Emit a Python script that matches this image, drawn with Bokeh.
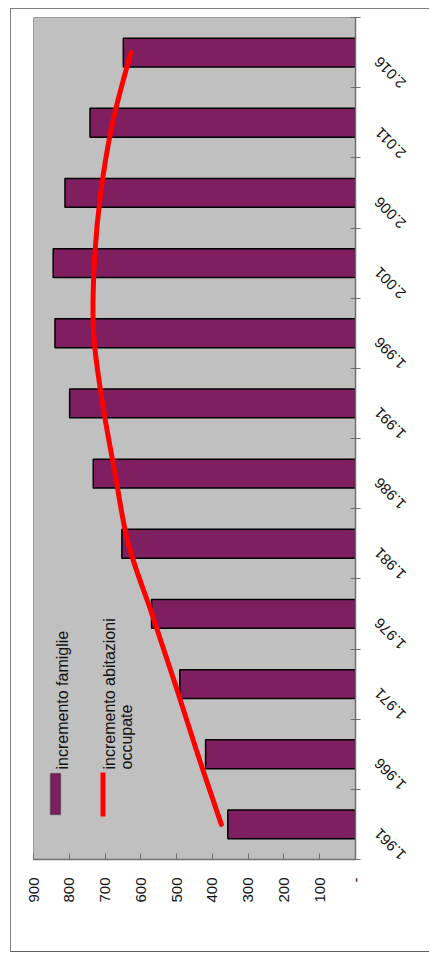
from math import pi

from bokeh.plotting import figure
from bokeh.models import Range1d, FixedTicker, Label, BoxAnnotation, ColumnDataSource
from bokeh.embed import file_html
from bokeh.resources import INLINE

# Census years (category axis) and the two series
years = ["1.961", "1.966", "1.971", "1.976", "1.981", "1.986",
         "1.991", "1.996", "2.001", "2.006", "2.011", "2.016"]
incremento_famiglie = [357, 419, 491, 570, 653, 733, 799, 840, 845, 812, 742, 649]
incremento_abitazioni = [375, 441, 504, 569, 635, 672, 707, 732, 730, 712, 679, 628]
value_ticks = [0, 100, 200, 300, 400, 500, 600, 700, 800, 900]
value_labels = ["-", "100", "200", "300", "400", "500", "600", "700", "800", "900"]

FONT = "Liberation Sans"
BAR = "#7F1F5F"
LINE = "#FF0000"
AXIS = "#707070"

# the figure sits inside a framed chart area
OX, OY = 10, 8          # page offset of the chart area frame
BW = 1                  # frame line width
W = 420 - BW
H = 956 - OY - 2 * BW - 2

n = len(years)
centers = [i + 0.5 for i in range(n)]
# year labels hang from the lower edge of each year's slot
label_pos = [i + 0.03 for i in range(n)]

p = figure(width=W, height=H,
           x_range=Range1d(900, 0), y_range=Range1d(0, n),
           x_axis_location="below", y_axis_location="right",
           output_backend="svg", toolbar_location=None,
           min_border_left=33 - OX - BW, min_border_top=17 - OY - BW,
           min_border_right=W - (355 - OX - BW),
           min_border_bottom=H - (859 - OY - BW))
p.margin = (OY, 0, 0, OX)
p.styles = {"border-left": f"{BW}px solid #808080",
            "border-top": f"{BW}px solid #808080",
            "border-bottom": f"{BW}px solid #606060"}

p.background_fill_color = "#C0C0C0"
p.border_fill_color = "white"
p.outline_line_color = "#9A9A9A"
p.outline_line_width = 1
p.xgrid.visible = False
p.ygrid.visible = False

# value axis (bottom), labels turned to read upwards
xa = p.xaxis[0]
xa.ticker = FixedTicker(ticks=value_ticks)
xa.major_label_overrides = {float(t): s for t, s in zip(value_ticks, value_labels)}
xa.major_label_orientation = pi / 2
xa.major_label_text_font = FONT
xa.major_label_text_font_size = "15px"
xa.major_label_text_color = "#111111"
xa.major_label_standoff = 18
xa.axis_line_color = AXIS
xa.axis_line_width = 1.5
xa.major_tick_line_color = AXIS
xa.major_tick_in = 6
xa.major_tick_out = 0
xa.minor_tick_line_color = None

# category axis (right): tick marks between the years, turned year labels
ya = p.yaxis[0]
ya.ticker = FixedTicker(ticks=label_pos, minor_ticks=list(range(n + 1)))
ya.major_label_overrides = {float(t): y for t, y in zip(label_pos, years)}
ya.major_label_orientation = 3 * pi / 4
ya.major_label_text_font = FONT
ya.major_label_text_font_size = "15px"
ya.major_label_text_color = "#111111"
ya.major_label_standoff = 43
ya.major_tick_in = 0
ya.major_tick_out = 0
ya.major_tick_line_color = None
ya.minor_tick_in = 5
ya.minor_tick_out = 5
ya.minor_tick_line_color = AXIS
ya.axis_line_color = AXIS
ya.axis_line_width = 1.5

src = ColumnDataSource(dict(pos=centers, fam=incremento_famiglie))

# bars
p.hbar(source=src, y="pos", left=0, right="fam", height=0.41,
       fill_color=BAR, line_color="black", line_width=1.5)

# smoothed line through the second series (cubic Bezier segments)
xs, ys = incremento_abitazioni, centers
seg = dict(x0=[], y0=[], x1=[], y1=[], cx0=[], cy0=[], cx1=[], cy1=[])
for i in range(n - 1):
    a = max(i - 1, 0)
    b = min(i + 2, n - 1)
    seg["x0"].append(xs[i]); seg["y0"].append(ys[i])
    seg["x1"].append(xs[i + 1]); seg["y1"].append(ys[i + 1])
    seg["cx0"].append(xs[i] + (xs[i + 1] - xs[a]) / 6)
    seg["cy0"].append(ys[i] + (ys[i + 1] - ys[a]) / 6)
    seg["cx1"].append(xs[i + 1] - (xs[b] - xs[i]) / 6)
    seg["cy1"].append(ys[i + 1] - (ys[b] - ys[i]) / 6)
p.bezier(source=seg, x0="x0", y0="y0", x1="x1", y1="y1",
         cx0="cx0", cy0="cy0", cx1="cx1", cy1="cy1",
         line_color=LINE, line_width=5, line_cap="round")

# legend, drawn turned like the rest of the chart (page pixel positions)
def box(left, right, top, bottom, **kw):
    return BoxAnnotation(left=left - OX - BW, right=right - OX - BW,
                         top=top - OY - BW, bottom=bottom - OY - BW,
                         left_units="canvas", right_units="canvas",
                         top_units="canvas", bottom_units="canvas", **kw)

p.add_layout(box(49, 59, 772, 813, fill_color=BAR, fill_alpha=1,
                 line_color="black", line_width=1.5))
p.add_layout(box(99, 104, 771, 815, fill_color=LINE, fill_alpha=1,
                 line_color=None))
for x, text in [(61, "incremento famiglie"),
                (108, "incremento abitazioni"),
                (125, "occupate")]:
    p.add_layout(Label(x=x - OX - BW, y=768 - OY - BW,
                       x_units="canvas", y_units="canvas",
                       text=text, angle=pi / 2, text_align="left",
                       text_baseline="alphabetic", text_font=FONT,
                       text_font_size="16px", text_color="#111111"))

open("out.html", "w").write(file_html(p, INLINE))
